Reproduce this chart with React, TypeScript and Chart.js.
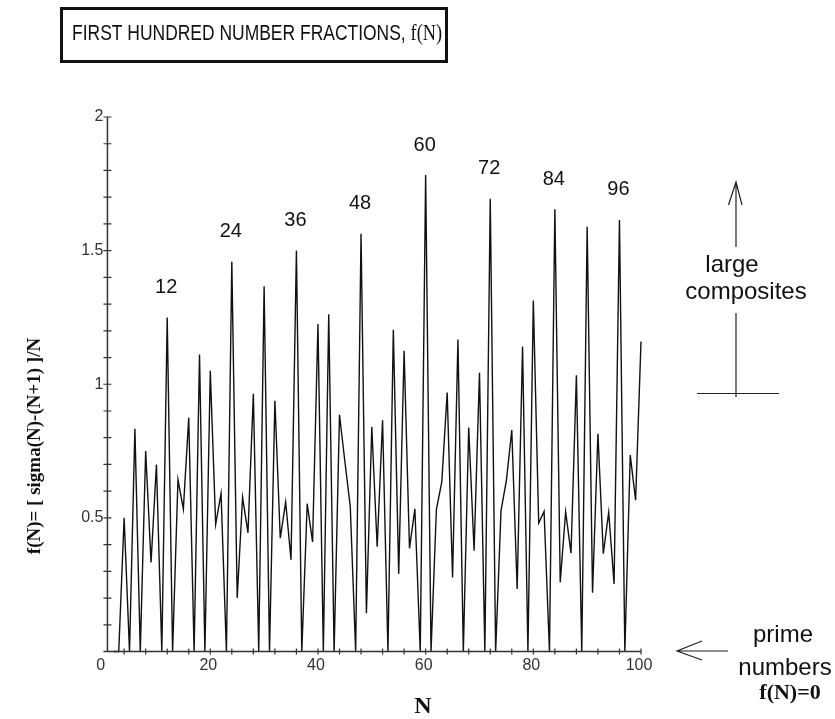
import React, { useEffect, useRef } from "react";
import { Chart, registerables } from "chart.js";

Chart.register(...registerables);

// f(N) for N = 2..100
const fValues: number[] = [
  0, 0, 0.5, 0, 0.833, 0, 0.75, 0.333, 0.7, 0,
  1.25, 0, 0.643, 0.533, 0.875, 0, 1.111, 0, 1.05, 0.476,
  0.591, 0, 1.458, 0.2, 0.577, 0.444, 0.964, 0, 1.367, 0,
  0.938, 0.424, 0.559, 0.343, 1.5, 0, 0.553, 0.41, 1.225, 0,
  1.262, 0, 0.886, 0.711, 0.543, 0, 1.563, 0.143, 0.84, 0.392,
  0.865, 0, 1.204, 0.291, 1.125, 0.386, 0.534, 0, 1.783, 0,
  0.532, 0.635, 0.969, 0.277, 1.167, 0, 0.838, 0.377, 1.043, 0,
  1.694, 0, 0.527, 0.64, 0.829, 0.234, 1.141, 0, 1.313, 0.481,
  0.524, 0, 1.655, 0.259, 0.523, 0.368, 1.034, 0, 1.589, 0.22,
  0.815, 0.366, 0.521, 0.253, 1.615, 0, 0.735, 0.566, 1.16,
];
const nValues: number[] = fValues.map((_, i) => i + 2);

const peakLabels: number[] = [12, 24, 36, 48, 60, 72, 84, 96];
const xTickLabels: number[] = [0, 20, 40, 60, 80, 100];
const yTickLabels: string[] = ["0.5", "1", "1.5", "2"];

const TITLE = "FIRST HUNDRED NUMBER FRACTIONS, ";
const TITLE_F = "f(N)";
const Y_TITLE = "f(N)= [ sigma(N)-(N+1) ]/N";
const X_TITLE = "N";

const decorPlugin = {
  id: "decor",
  afterDraw(chart: any) {
    const ctx: CanvasRenderingContext2D = chart.ctx;
    const xs = chart.scales.x;
    const ys = chart.scales.y;
    const px = (v: number) => xs.getPixelForValue(v);
    const py = (v: number) => ys.getPixelForValue(v);
    ctx.save();

    // Title box
    ctx.strokeStyle = "#111";
    ctx.lineWidth = 3;
    ctx.strokeRect(61.5, 8.5, 385, 53);
    ctx.fillStyle = "#111";
    ctx.textBaseline = "alphabetic";
    ctx.textAlign = "left";
    const sansT = "22px 'Liberation Sans', Arial, sans-serif";
    const serifT = "23px 'Liberation Serif', 'Times New Roman', serif";
    ctx.font = sansT;
    const tw = ctx.measureText(TITLE).width;
    ctx.font = serifT;
    const tw2 = ctx.measureText(TITLE_F).width;
    const sx = Math.min(1, 370 / (tw + tw2));
    ctx.save();
    ctx.translate(72, 40);
    ctx.scale(sx, 1);
    ctx.font = sansT;
    ctx.fillText(TITLE, 0, 0);
    ctx.font = serifT;
    ctx.fillText(TITLE_F, tw, 0);
    ctx.restore();

    // Axes
    ctx.strokeStyle = "#333";
    ctx.lineWidth = 1.5;
    const y0 = py(0);
    const axX = px(0.9);
    ctx.beginPath();
    ctx.moveTo(axX, y0);
    ctx.lineTo(axX, py(2));
    ctx.moveTo(axX - 4, y0);
    ctx.lineTo(px(100), y0);
    ctx.stroke();

    ctx.lineWidth = 1.2;
    ctx.beginPath();
    for (let i = 1; i <= 20; i++) {
      const yy = py(i / 10);
      ctx.moveTo(axX - 4, yy);
      ctx.lineTo(axX + 4, yy);
    }
    for (let v = 4; v <= 100; v += 4) {
      const xx = px(v);
      ctx.moveTo(xx, y0 - 3);
      ctx.lineTo(xx, y0 + 3);
    }
    ctx.stroke();

    // tick labels
    ctx.fillStyle = "#333";
    ctx.font = "16px 'Liberation Sans', Arial, sans-serif";
    ctx.textAlign = "right";
    ctx.textBaseline = "middle";
    yTickLabels.forEach((t) => {
      ctx.fillText(t, axX - 4, py(parseFloat(t)));
    });
    ctx.textAlign = "center";
    ctx.textBaseline = "top";
    xTickLabels.forEach((t) => {
      ctx.fillText(String(t), px(t) - 2, y0 + 6);
    });

    // Peak labels
    ctx.fillStyle = "#111";
    ctx.font = "20px 'Liberation Sans', Arial, sans-serif";
    ctx.textAlign = "center";
    ctx.textBaseline = "middle";
    peakLabels.forEach((n) => {
      const v = fValues[nValues.indexOf(n)];
      ctx.fillText(String(n), px(n) - 1, py(v) - 30);
    });

    // Axis titles
    ctx.font = "bold 24px 'Liberation Serif', 'Times New Roman', serif";
    ctx.fillText(X_TITLE, 423, 707);
    ctx.save();
    ctx.translate(35, 446);
    ctx.rotate(-Math.PI / 2);
    ctx.font = "bold 19px 'Liberation Serif', 'Times New Roman', serif";
    ctx.fillText(Y_TITLE, 0, 0);
    ctx.restore();

    // Large composites annotation
    ctx.strokeStyle = "#222";
    ctx.lineWidth = 1.2;
    ctx.beginPath();
    ctx.moveTo(736, 182);
    ctx.lineTo(736, 247);
    ctx.moveTo(736, 313);
    ctx.lineTo(736, 397);
    ctx.moveTo(728.5, 205);
    ctx.lineTo(736, 182);
    ctx.lineTo(742, 205);
    ctx.moveTo(697, 393.5);
    ctx.lineTo(779, 393.5);
    // prime arrow
    ctx.moveTo(677, 651);
    ctx.lineTo(728, 651);
    ctx.moveTo(702, 641);
    ctx.lineTo(677, 651);
    ctx.lineTo(702, 660);
    ctx.stroke();

    ctx.fillStyle = "#111";
    ctx.textBaseline = "alphabetic";
    ctx.textAlign = "center";
    ctx.font = "24px 'Liberation Sans', Arial, sans-serif";
    ctx.fillText("large", 732, 272);
    ctx.fillText("composites", 746, 299);
    ctx.fillText("prime", 783, 642);
    ctx.fillText("numbers", 785, 675);
    ctx.font = "bold 22px 'Liberation Serif', 'Times New Roman', serif";
    ctx.fillText("f(N)=0", 790, 699);

    ctx.restore();
  },
};

export default function App() {
  const ref = useRef<HTMLCanvasElement | null>(null);
  useEffect(() => {
    if (!ref.current) return;
    const chart = new Chart(ref.current, {
      type: "line",
      data: {
        datasets: [
          {
            data: nValues.map((n, i) => ({ x: n, y: fValues[i] })),
            borderColor: "#111",
            borderWidth: 1.4,
            pointRadius: 0,
            tension: 0,
            fill: false,
            clip: false as any,
          },
        ],
      },
      plugins: [decorPlugin],
      options: {
        animation: false,
        responsive: false,
        devicePixelRatio: 1,
        layout: { padding: { left: 102.6, right: 194, top: 117, bottom: 67.5 } },
        plugins: { legend: { display: false }, title: { display: false }, tooltip: { enabled: false } },
        scales: {
          x: { type: "linear", min: 0, max: 100, display: false },
          y: { type: "linear", min: 0, max: 2, display: false },
        },
      },
    });
    return () => chart.destroy();
  }, []);
  return (
    <div style={{ position: "fixed", left: 0, top: 0, width: 835, height: 719, background: "#fff" }}>
      <canvas ref={ref} width={835} height={719} style={{ width: 835, height: 719 }} />
    </div>
  );
}
